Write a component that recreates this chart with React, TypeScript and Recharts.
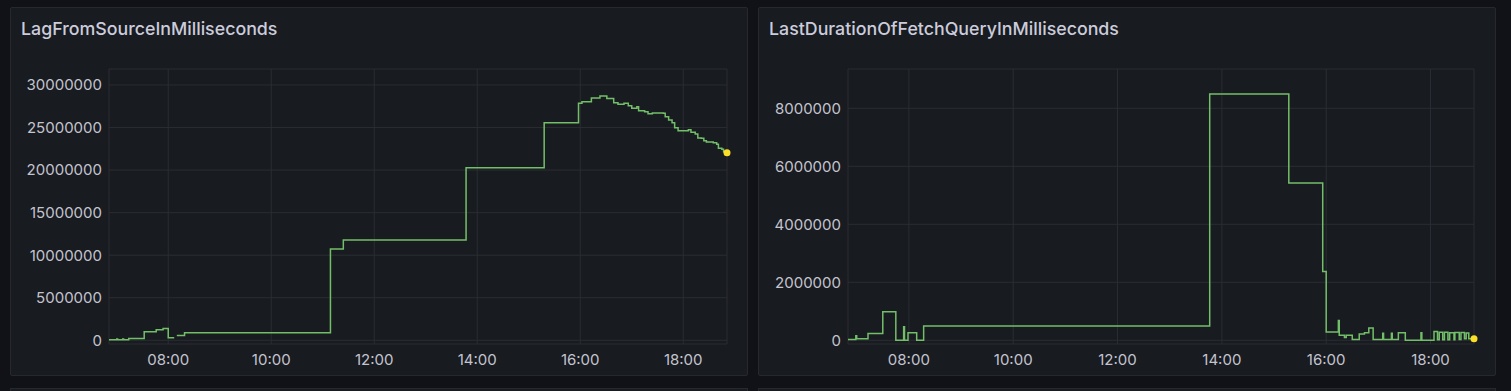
import React from "react";
import { LineChart, Line, XAxis, YAxis, CartesianGrid } from "recharts";

// ---- Data ----
const lagTitle = "LagFromSourceInMilliseconds";
const lagTimes = [
  "06:51", "07:00", "07:01", "07:07", "07:08", "07:14", "07:32", "07:46", "07:54", "08:00",
  "08:07", "08:08", "08:10", "08:19", "11:09", "11:24", "13:47", "15:18", "15:58", "16:02",
  "16:13", "16:23", "16:31", "16:39", "16:44", "16:51", "16:56", "17:00", "17:06", "17:08",
  "17:15", "17:19", "17:24", "17:37", "17:39", "17:43", "17:47", "17:50", "17:54", "18:06",
  "18:09", "18:14", "18:17", "18:21", "18:24", "18:27", "18:35", "18:39", "18:41", "18:45",
  "18:47", "18:51",
];
const lagValues: (number | null)[] = [
  50000, 150000, 50000, 150000, 50000, 200000, 1000000, 1250000, 1400000, 300000,
  300000, null, 550000, 900000, 10730000, 11790000, 20280000, 25570000, 27850000, 28040000,
  28470000, 28700000, 28400000, 27900000, 27730000, 27850000, 27570000, 27260000, 27450000, 26980000,
  26860000, 26630000, 26710000, 26670000, 26270000, 25880000, 25570000, 24980000, 24630000, 24750000,
  24440000, 24240000, 23770000, 23740000, 23450000, 23300000, 23220000, 23030000, 22560000, 22440000,
  22160000, 22050000,
];
const lagYTicks = [0, 5000000, 10000000, 15000000, 20000000, 25000000, 30000000];

const fetchTitle = "LastDurationOfFetchQueryInMilliseconds";
const fetchTimes = [
  "06:50", "06:59", "07:00", "07:13", "07:30", "07:45", "07:54", "07:55", "07:59", "08:09",
  "08:17", "13:46", "15:17", "15:56", "16:00", "16:14", "16:15", "16:21", "16:23", "16:30",
  "16:38", "16:44", "16:49", "16:54", "17:05", "17:06", "17:15", "17:16", "17:23", "17:31",
  "17:49", "17:50", "18:04", "18:08", "18:10", "18:14", "18:16", "18:20", "18:22", "18:27",
  "18:28", "18:33", "18:35", "18:39", "18:41", "18:44", "18:50",
];
const fetchValues: (number | null)[] = [
  30000, 160000, 50000, 230000, 980000, 0, 470000, 0, 260000, 0,
  490000, 8490000, 5420000, 2370000, 290000, 680000, 170000, 100000, 170000, 30000,
  220000, 260000, 420000, 30000, 240000, 30000, 240000, 30000, 260000, 0,
  260000, 0, 300000, 20000, 280000, 20000, 280000, 20000, 260000, 20000,
  270000, 30000, 270000, 50000, 250000, 50000, 50000,
];
const fetchYTicks = [0, 2000000, 4000000, 6000000, 8000000];

const timeTicks = ["08:00", "10:00", "12:00", "14:00", "16:00", "18:00"];

// ---- helpers ----
const toMin = (s: string) => {
  const [h, m] = s.split(":").map(Number);
  return h * 60 + m;
};
const fmtTime = (v: number) => {
  const h = Math.floor(v / 60);
  const m = Math.round(v - h * 60);
  return `${String(h).padStart(2, "0")}:${String(m).padStart(2, "0")}`;
};
const build = (times: string[], values: (number | null)[]) =>
  times.map((t, i) => ({ t: toMin(t), v: values[i] }));

const lagData = build(lagTimes, lagValues);
const fetchData = build(fetchTimes, fetchValues);
const xTicks = timeTicks.map(toMin);

const BG = "#111217";
const PANEL = "#181b1f";
const BORDER = "#26282e";
const GRID = "#2a2d33";
const TEXT = "#ccccdc";
const TICK = "#c4c4d0";
const GREEN = "#73bf69";
const YELLOW = "#fade2a";
const FONT = "Inter, 'Noto Sans', sans-serif";

const lastDot = (n: number) => (props: any) => {
  const { cx, cy, index } = props;
  if (index !== n - 1 || cx == null || cy == null) return <g key={`d${index}`} />;
  return <circle key={`d${index}`} cx={cx} cy={cy} r={3.5} fill={YELLOW} stroke="none" />;
};

type PanelProps = {
  left: number;
  title: string;
  data: { t: number; v: number | null }[];
  yTicks: number[];
  yDomain: [number, number];
  xDomain: [number, number];
  yAxisWidth: number;
  marginRight: number;
};

const Panel = ({ left, title, data, yTicks, yDomain, xDomain, yAxisWidth, marginRight }: PanelProps) => {
  const W = 738;
  const H = 369;
  const top = 7;
  return (
    <>
      <div
        style={{
          position: "absolute",
          left,
          top,
          width: W,
          height: H,
          boxSizing: "border-box",
          background: PANEL,
          border: `1px solid ${BORDER}`,
          borderRadius: 2,
        }}
      />
      <div
        style={{
          position: "absolute",
          left: left + 11,
          top: top + 10,
          fontFamily: FONT,
          fontSize: 17.8,
          fontWeight: 500,
          color: TEXT,
          lineHeight: "24px",
          whiteSpace: "nowrap",
        }}
      >
        {title}
      </div>
      <div style={{ position: "absolute", left, top }}>
        <LineChart
          width={W}
          height={H}
          data={data}
          margin={{ top: 62, right: marginRight, bottom: 2, left: 0 }}
        >
          <CartesianGrid stroke={GRID} strokeWidth={1} />
          <XAxis
            dataKey="t"
            type="number"
            domain={xDomain}
            ticks={xTicks}
            tickFormatter={fmtTime}
            axisLine={false}
            tickLine={false}
            tickSize={6}
            tickMargin={4}
            height={30}
            tick={{ fill: TICK, fontSize: 15, fontFamily: FONT }}
          />
          <YAxis
            type="number"
            domain={yDomain}
            ticks={yTicks}
            axisLine={false}
            tickLine={false}
            tickSize={5}
            tickMargin={2}
            width={yAxisWidth}
            tick={{ fill: TICK, fontSize: 15, fontFamily: FONT }}
          />
          <Line
            type="stepAfter"
            dataKey="v"
            stroke={GREEN}
            strokeWidth={1.5}
            dot={lastDot(data.length)}
            activeDot={false}
            isAnimationActive={false}
            connectNulls={false}
          />
        </LineChart>
      </div>
    </>
  );
};

export default function App() {
  return (
    <div
      style={{
        position: "absolute",
        left: 0,
        top: 0,
        width: 1511,
        height: 391,
        background: BG,
        overflow: "hidden",
      }}
    >
      <Panel
        left={10}
        title={lagTitle}
        data={lagData}
        yTicks={lagYTicks}
        yDomain={[-435000, 31880000]}
        xDomain={[411, 1131]}
        yAxisWidth={99}
        marginRight={21}
      />
      <Panel
        left={758}
        title={fetchTitle}
        data={fetchData}
        yTicks={fetchYTicks}
        yDomain={[-128000, 9355000]}
        xDomain={[410, 1130]}
        yAxisWidth={90}
        marginRight={22}
      />
      <div
        style={{
          position: "absolute",
          left: 10,
          top: 388,
          width: 738,
          height: 20,
          boxSizing: "border-box",
          background: PANEL,
          border: `1px solid ${BORDER}`,
        }}
      />
      <div
        style={{
          position: "absolute",
          left: 758,
          top: 388,
          width: 738,
          height: 20,
          boxSizing: "border-box",
          background: PANEL,
          border: `1px solid ${BORDER}`,
        }}
      />
    </div>
  );
}
